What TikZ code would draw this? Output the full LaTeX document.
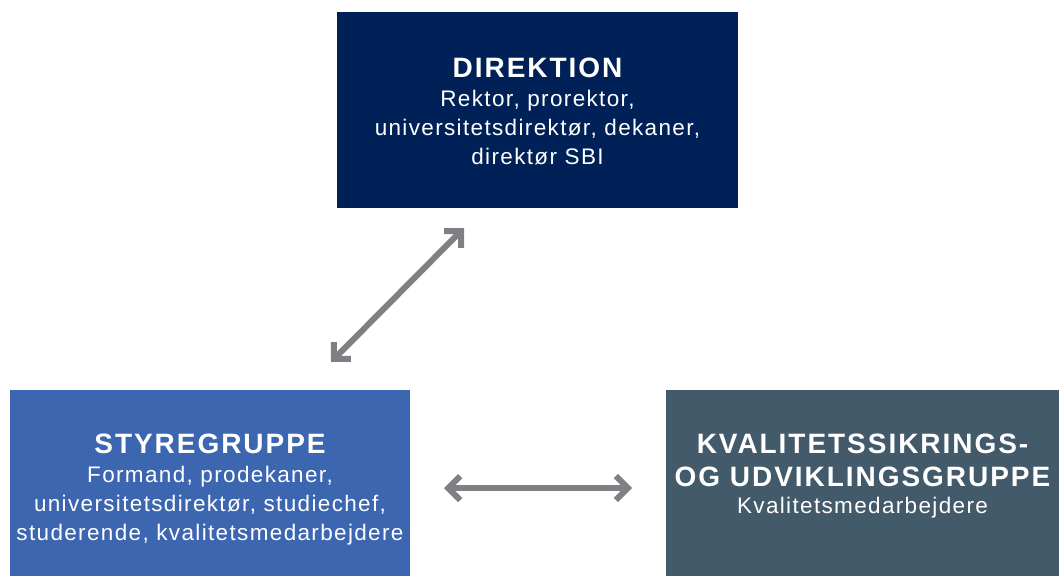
\documentclass[tikz,border=0pt]{standalone}
\usepackage{fontspec}
\usepackage{xcolor}
\usepackage{tikz}
\usetikzlibrary{arrows.meta}
\setmainfont{Liberation Sans}
\newfontfamily\headfont[LetterSpace=7]{Liberation Sans Bold}
\newfontfamily\bodyfont[LetterSpace=6]{Liberation Sans}
\newcommand{\boxtitle}[1]{{\headfont\fontsize{28}{33}\selectfont #1}}

\definecolor{direktionblue}{HTML}{002157}
\definecolor{styreblue}{HTML}{3D66B1}
\definecolor{kvalitetgrey}{HTML}{435A6B}
\definecolor{arrowgrey}{HTML}{808084}

\begin{document}
\begin{tikzpicture}[x=1pt, y=-1pt,
    box/.style={inner sep=0pt, text=white, align=center,
        font=\bodyfont\fontsize{22.5}{29}\selectfont},
    link/.style={draw=arrowgrey, line width=6pt,
        {Straight Barb[length=12pt, width=24pt]}-{Straight Barb[length=12pt, width=24pt]}}]
            \useasboundingbox (0,0) rectangle (1059,576);

            % Boxes
            \fill[direktionblue] (337,12) rectangle (738,208);
            \fill[styreblue] (10,390) rectangle (410,576);
            \fill[kvalitetgrey] (666,390) rectangle (1059,576);

            % Texts
            \node[box] (direktion) at (537.5,111) {\boxtitle{DIREKTION}\\
                Rektor, prorektor,\\ universitetsdirektør, dekaner,\\ direktør SBI};
            \node[box] (styregruppe) at (210,490) {\boxtitle{STYREGRUPPE}\\
                Formand, prodekaner,\\ universitetsdirektør, studiechef,\\ studerende, kvalitetsmedarbejdere};
            \node[box] (kvalitet) at (862.5,476) {\boxtitle{KVALITETSSIKRINGS-}\\[4pt]
                \boxtitle{OG UDVIKLINGSGRUPPE}\\[-2pt] Kvalitetsmedarbejdere};

            % Arrows
            \coordinate (styre end) at (331,362);
            \coordinate (direktion end) at (464,228);
            \coordinate (styre side) at (444,488);
            \coordinate (kvalitet side) at (632,488);
            \draw[link] (styre end) -- (direktion end);
            \draw[link] (styre side) -- (kvalitet side);

        \end{tikzpicture}
\end{document}
